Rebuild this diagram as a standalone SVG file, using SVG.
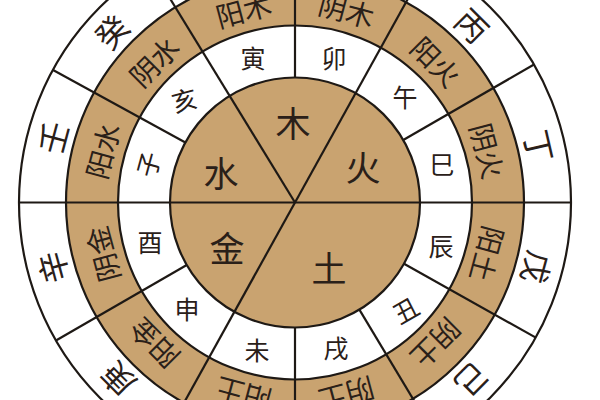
<svg xmlns="http://www.w3.org/2000/svg" width="600" height="400" viewBox="0 0 600 400">
<defs>
<style>
.tan{fill:#C9A370}
.wh{fill:#FFFFFF}
.ln{stroke:#1E1915;stroke-width:2.2;fill:none;stroke-linecap:butt}
text{font-family:"Noto Sans CJK SC","Noto Sans CJK JP",sans-serif;fill:#2A2019;text-anchor:middle;dominant-baseline:central}
.el{font-size:35px}
.br{font-size:25px}
.yy{font-size:28px}
.st{font-size:32px}
</style>
<clipPath id="outer"><circle cx="295" cy="202.5" r="276"/></clipPath>
</defs>
<rect width="600" height="400" fill="#FFFFFF"/>
<g id="rings">
<circle cx="295" cy="202.5" r="276" class="wh"/>
<circle cx="295" cy="202.5" r="229" class="tan"/>
<circle cx="295" cy="202.5" r="177" class="wh"/>
</g>
<g id="connectors" clip-path="url(#outer)">
<g class="ln">
<line x1="295" y1="77.5" x2="295" y2="-90"/>
<line x1="295" y1="77.5" x2="295" y2="-90" transform="rotate(60 295 202.5)"/>
<line x1="295" y1="77.5" x2="295" y2="-90" transform="rotate(119.3 295 202.5)"/>
<line x1="295" y1="77.5" x2="295" y2="-90" transform="rotate(149 295 202.5)"/>
<line x1="295" y1="77.5" x2="295" y2="-90" transform="rotate(180 295 202.5)"/>
<line x1="295" y1="77.5" x2="295" y2="-90" transform="rotate(240 295 202.5)"/>
<line x1="295" y1="77.5" x2="295" y2="-90" transform="rotate(298.7 295 202.5)"/>
</g>
</g>
<g id="element-disc">
<circle cx="295" cy="202.5" r="125" class="tan"/>
</g>
<g id="main-spokes" class="ln" clip-path="url(#outer)">
<line x1="295" y1="202.5" x2="295" y2="-90" transform="rotate(29 295 202.5)"/>
<line x1="295" y1="202.5" x2="295" y2="-90" transform="rotate(90 295 202.5)"/>
<line x1="295" y1="202.5" x2="295" y2="-90" transform="rotate(209 295 202.5)"/>
<line x1="295" y1="202.5" x2="295" y2="-90" transform="rotate(270 295 202.5)"/>
<line x1="295" y1="202.5" x2="295" y2="-90" transform="rotate(328.5 295 202.5)"/>
</g>
<g id="ring-outlines" class="ln">
<circle cx="295" cy="202.5" r="276"/>
<circle cx="295" cy="202.5" r="229"/>
<circle cx="295" cy="202.5" r="177"/>
<circle cx="295" cy="202.5" r="125"/>
</g>
<g id="elements">
<text class="el" x="293" y="121">木</text>
<text class="el" x="363" y="165">火</text>
<text class="el" x="329" y="266">土</text>
<text class="el" x="227" y="246">金</text>
<text class="el" x="221" y="171">水</text>
</g>
<g id="branches">
<text class="br" x="253" y="57">寅</text>
<text class="br" x="334" y="57">卯</text>
<text class="br" x="405" y="96">午</text>
<text class="br" x="442" y="163">巳</text>
<text class="br" x="441" y="245">辰</text>
<text class="br" x="405" y="309" transform="rotate(-30 405 309)">丑</text>
<text class="br" x="336" y="347">戌</text>
<text class="br" x="257" y="349">未</text>
<text class="br" x="187" y="308">申</text>
<text class="br" x="150" y="241">酉</text>
<text class="br" x="147" y="164" transform="rotate(-75 147 164)">子</text>
<text class="br" x="184" y="99" transform="rotate(-15 184 99)">亥</text>
</g>
<g id="yinyang">
<text class="yy" x="295" y="2.5" transform="rotate(-15 295 202.5)">阳木</text>
<text class="yy" x="295" y="2.5" transform="rotate(15 295 202.5)">阴木</text>
<text class="yy" x="295" y="2.5" transform="rotate(45 295 202.5)">阳火</text>
<text class="yy" x="295" y="2.5" transform="rotate(75 295 202.5)">阴火</text>
<text class="yy" x="295" y="2.5" transform="rotate(105 295 202.5)">阳土</text>
<text class="yy" x="295" y="2.5" transform="rotate(135 295 202.5)">阴土</text>
<text class="yy" x="295" y="2.5" transform="rotate(165 295 202.5)">阴土</text>
<text class="yy" x="295" y="2.5" transform="rotate(195 295 202.5)">阳土</text>
<text class="yy" x="295" y="2.5" transform="rotate(225 295 202.5)">阳金</text>
<text class="yy" x="295" y="2.5" transform="rotate(255 295 202.5)">阴金</text>
<text class="yy" x="295" y="2.5" transform="rotate(285 295 202.5)">阳水</text>
<text class="yy" x="295" y="2.5" transform="rotate(315 295 202.5)">阴水</text>
</g>
<g id="stems">
<text class="st" x="295" y="-49.5" transform="rotate(45 295 202.5)">丙</text>
<text class="st" x="295" y="-49.5" transform="rotate(77 295 202.5)">丁</text>
<text class="st" x="295" y="-49.5" transform="rotate(105 295 202.5)">戊</text>
<text class="st" x="295" y="-49.5" transform="rotate(135 295 202.5)">己</text>
<text class="st" x="295" y="-49.5" transform="rotate(225 295 202.5)">庚</text>
<text class="st" x="295" y="-49.5" transform="rotate(255 295 202.5)">辛</text>
<text class="st" x="295" y="-49.5" transform="rotate(285 295 202.5)">壬</text>
<text class="st" x="295" y="-49.5" transform="rotate(313 295 202.5)">癸</text>
</g>
</svg>
